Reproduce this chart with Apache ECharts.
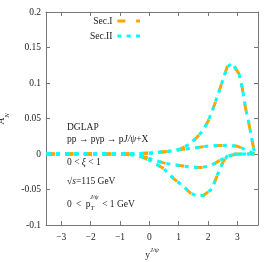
<!DOCTYPE html>
<html><head><meta charset="utf-8">
<script src="https://cdn.jsdelivr.net/npm/echarts@6/dist/echarts.min.js"></script>
<style>html,body{margin:0;padding:0;background:#fff}#c{width:273px;height:262px}</style>
</head><body><div id="c"></div>
<script>
// ---- data ----
const xTicks = [-3, -2, -1, 0, 1, 2, 3];
const yTicks = [-0.1, -0.05, 0, 0.05, 0.1, 0.15, 0.2];
const seriesNames = ['Sec.I', 'Sec.II'];

const peakX = [-3.5,-3,-2.5,-2,-1.5,-1,-0.5,0,0.5,0.83,1.06,1.4,1.63,1.8,2.0,2.19,2.42,2.65,2.82,3.05,3.16,3.27,3.39,3.5,3.58];
const peakY = [0,0,0,0,0,0,0.0005,0.0015,0.003,0.0045,0.007,0.0146,0.024,0.032,0.046,0.066,0.094,0.1225,0.128,0.113,0.094,0.066,0.043,0.019,0.002];

const upX = [-3.5,-3,-2.5,-2,-1.5,-1,-0.5,0,0.5,1.06,1.5,1.97,2.3,2.65,2.99,3.15,3.27,3.4,3.5,3.58];
const upY = [0,0,0,0,0,0,0.0003,0.001,0.003,0.0062,0.0085,0.011,0.012,0.0122,0.011,0.0085,0.006,0.0035,0.0015,0];

const lowX = [-3.5,-3,-2.5,-2,-1.5,-1,-0.5,-0.19,0.2,0.49,0.8,1.17,1.45,1.74,2.0,2.2,2.4,2.6,2.76,2.95,3.2,3.4,3.58];
const lowY = [0,0,0,0,0,0,-0.001,-0.004,-0.009,-0.0125,-0.015,-0.017,-0.0185,-0.019,-0.0175,-0.014,-0.009,-0.0045,-0.002,-0.0005,0,0,0];

const dipX = [-3.5,-3,-2.5,-2,-1.5,-1,-0.5,-0.2,0.1,0.49,0.83,1.17,1.4,1.63,1.85,2.08,2.22,2.36,2.5,2.65,2.8,3.0,3.3,3.58];
const dipY = [0,0,0,0,0,0,-0.0015,-0.005,-0.011,-0.0206,-0.0347,-0.046,-0.055,-0.0596,-0.058,-0.051,-0.04,-0.025,-0.012,-0.003,-0.0005,0,0,0];

// ---- styles ----
const FONT = 'Liberation Serif';
const FS = 9.5;
const TXT = '#222';
const styles = {
  'Sec.I': {color: '#ffa500', dash: [8, 10.7]},
  'Sec.II': {color: '#00ffff', dash: [4, 5.3]}
};
const curves = [[peakX, peakY], [upX, upY], [lowX, lowY], [dipX, dipY]];
const pairs = (xs, ys) => xs.map((x, i) => [x, ys[i]]);

const series = [];
seriesNames.forEach(name => {
  curves.forEach(([xs, ys]) => {
    series.push({
      name, type: 'line', data: pairs(xs, ys), showSymbol: false, symbol: 'none',
      xAxisIndex: 0, yAxisIndex: 0, animation: false, silent: true,
      lineStyle: {color: styles[name].color, width: 3, type: styles[name].dash, cap: 'butt'},
      itemStyle: {color: styles[name].color}
    });
  });
});

// text measuring helper for layout of the p_T label
const mctx = document.createElement('canvas').getContext('2d');
function tw(txt, size, italic) {
  mctx.font = (italic ? 'italic ' : '') + size + 'px "' + FONT + '"';
  return mctx.measureText(txt).width;
}
const pre = '0 \u2009<\u2009 p';
const preW = tw(pre, FS, false);
const supW = tw('J/\u03c8', 6.5, true);

const axisCommon = {
  axisLine: {show: true, onZero: false, lineStyle: {color: '#777', width: 1}},
  axisTick: {show: true, inside: true, length: 4, lineStyle: {color: '#777'}},
  splitLine: {show: false}
};
const xMin = -3.52, xMax = 3.7;
const option = {
  backgroundColor: '#fff',
  animation: false,
  grid: {left: 46, right: 15, top: 12, bottom: 37, containLabel: false, outerBoundsMode: 'none'},
  legend: {
    orient: 'vertical', left: 90, top: 16, padding: 0, itemGap: 5,
    align: 'right', itemWidth: 22.6, itemHeight: 10,
    textStyle: {fontFamily: FONT, fontSize: FS, color: TXT},
    data: seriesNames.map(n => ({name: n,
      itemStyle: {opacity: 0},
      lineStyle: {color: styles[n].color, width: 3, type: styles[n].dash}}))
  },
  xAxis: [
    Object.assign({}, axisCommon, {
      type: 'value', position: 'bottom', min: xMin, max: xMax,
      axisTick: Object.assign({}, axisCommon.axisTick, {customValues: xTicks}),
      axisLabel: {customValues: xTicks, margin: 7, fontFamily: FONT, fontSize: FS, color: TXT,
        formatter: v => String(v).replace('-', '\u2212')},
      name: '{y|y}{s|J/\u03c8}', nameLocation: 'middle', nameGap: 17,
      nameTextStyle: {rich: {
        y: {fontFamily: FONT, fontSize: FS, color: TXT, verticalAlign: 'bottom', lineHeight: 14},
        s: {fontFamily: FONT, fontSize: 6.5, fontStyle: 'italic', color: TXT, verticalAlign: 'top', lineHeight: 14}
      }}
    }),
    Object.assign({}, axisCommon, {
      type: 'value', position: 'top', min: xMin, max: xMax,
      axisTick: Object.assign({}, axisCommon.axisTick, {customValues: xTicks}),
      axisLabel: {show: false}
    })
  ],
  yAxis: [
    Object.assign({}, axisCommon, {
      type: 'value', position: 'left', min: -0.1, max: 0.2, interval: 0.05,
      axisLabel: {margin: 5, fontFamily: FONT, fontSize: FS, color: TXT},
      name: '{a|A}{n|N}', nameLocation: 'middle', nameGap: 32, nameRotate: 90,
      nameTextStyle: {rich: {
        a: {fontFamily: FONT, fontSize: 10, fontStyle: 'italic', color: TXT, verticalAlign: 'top', lineHeight: 14},
        n: {fontFamily: FONT, fontSize: 7, fontStyle: 'italic', color: TXT, verticalAlign: 'bottom', lineHeight: 14}
      }}
    }),
    Object.assign({}, axisCommon, {
      type: 'value', position: 'right', min: -0.1, max: 0.2, interval: 0.05,
      axisLabel: {show: false}
    })
  ],
  graphic: [
    {type: 'text', left: 67, top: 122, silent: true,
      style: {text: 'DGLAP', fill: TXT, fontFamily: FONT, fontSize: FS}},
    {type: 'text', left: 67, top: 134, silent: true,
      style: {text: 'pp \u2192 p\u03b3p \u2192 p{i|J/\u03c8}+X', fill: TXT, fontFamily: FONT, fontSize: FS,
        rich: {i: {fontFamily: FONT, fontSize: FS, fontStyle: 'italic', fill: TXT}}}},
    {type: 'text', left: 67, top: 157, silent: true,
      style: {text: '0 < {i|\u03be} < 1', fill: TXT, fontFamily: FONT, fontSize: FS,
        rich: {i: {fontFamily: FONT, fontSize: FS, fontStyle: 'italic', fill: TXT}}}},
    {type: 'text', left: 67, top: 176, silent: true,
      style: {text: '\u221a{i|s}=115 GeV', fill: TXT, fontFamily: FONT, fontSize: FS,
        rich: {i: {fontFamily: FONT, fontSize: FS, fontStyle: 'italic', fill: TXT}}}},
    {type: 'text', left: 67, top: 199, silent: true,
      style: {text: pre, fill: TXT, fontFamily: FONT, fontSize: FS}},
    {type: 'text', left: 67 + preW - 0.5, top: 194, silent: true,
      style: {text: 'J/\u03c8', fill: TXT, fontFamily: FONT, fontSize: 6.5, fontStyle: 'italic'}},
    {type: 'text', left: 67 + preW, top: 204.5, silent: true,
      style: {text: 'T', fill: TXT, fontFamily: FONT, fontSize: 6.5, fontStyle: 'italic'}},
    {type: 'text', left: 67 + preW + supW + 3, top: 199, silent: true,
      style: {text: '< 1 GeV', fill: TXT, fontFamily: FONT, fontSize: FS}}
  ],
  series
};
const chart = echarts.init(document.getElementById('c'), null, {renderer: 'canvas'});
chart.setOption(option);
</script>
</body></html>
